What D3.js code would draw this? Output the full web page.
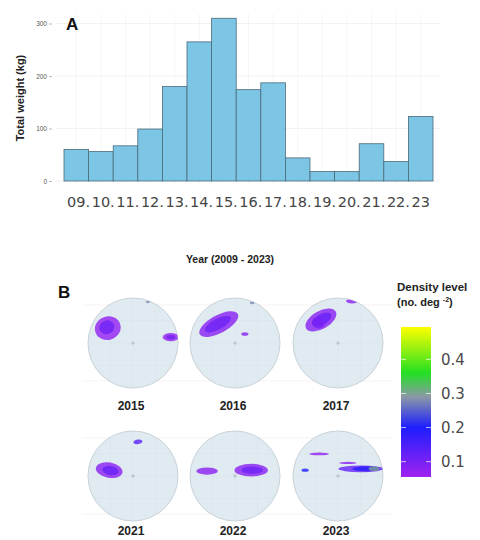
<!DOCTYPE html>
<html>
<head>
<meta charset="utf-8">
<script src="https://cdn.jsdelivr.net/npm/d3@7"></script>
<style>
  html, body { margin: 0; padding: 0; background: #fff; }
  svg { display: block; }
</style>
</head>
<body>
<svg id="chart" width="480" height="540"></svg>
<script>
// ---- Panel A: yearly total weight ----
const years = ["09.", "10.", "11.", "12.", "13.", "14.", "15.", "16.", "17.", "18.", "19.", "20.", "21.", "22.", "23"];
const weights = [60, 56, 67, 99, 180, 265, 310, 174, 187, 44, 18, 18, 71, 37, 123];
const weightTicks = [0, 100, 200, 300];

// ---- Panel B: density maps per year ----
const mapYears = ["2015", "2016", "2017", "2021", "2022", "2023"];
// density patches: panel index, centre (x, y in unit disc, y up), radii, tilt (deg), density level
const patchPanel = [0, 0, 0, 0, 0,   1, 1, 1, 1,   2, 2, 2, 2,   3, 3, 3,   4, 4, 4,   5, 5, 5, 5, 5, 5];
const patchX     = [-0.56, -0.58, 0.84, 0.84, 0.33,   -0.36, -0.38, 0.22, 0.38,   -0.38, -0.36, -0.44, 0.31,   -0.53, -0.5, 0.11,   -0.62, 0.36, 0.38,   -0.42, -0.73, 0.51, 0.62, 0.80, 0.22];
const patchY     = [0.33, 0.35, 0.13, 0.13, 0.91,   0.42, 0.42, 0.2, 0.89,   0.51, 0.52, 0.45, 0.93,   0.13, 0.12, 0.76,   0.11, 0.13, 0.13,   0.49, 0.13, 0.16, 0.16, 0.16, 0.29];
const patchRx    = [0.29, 0.17, 0.18, 0.10, 0.05,   0.48, 0.32, 0.08, 0.05,   0.38, 0.24, 0.12, 0.13,   0.30, 0.18, 0.10,   0.24, 0.37, 0.24,   0.22, 0.08, 0.50, 0.30, 0.12, 0.19];
const patchRy    = [0.26, 0.15, 0.09, 0.05, 0.025,  0.20, 0.12, 0.04, 0.03,   0.20, 0.12, 0.14, 0.05,   0.17, 0.10, 0.05,   0.08, 0.14, 0.08,   0.03, 0.035, 0.075, 0.055, 0.055, 0.025];
const patchTilt  = [20, 20, 0, 0, 0,   28, 28, 0, 0,   30, 30, 60, 0,   -10, -10, 10,   0, 0, 0,   0, 0, 0, 0, 0, 0];
const patchLevel = [0.07, 0.11, 0.07, 0.10, 0.28,   0.08, 0.11, 0.08, 0.28,   0.08, 0.12, 0.10, 0.08,   0.08, 0.12, 0.13,   0.08, 0.08, 0.11,   0.07, 0.2, 0.12, 0.19, 0.3, 0.08];

// ---- Colour bar ----
const densityDomain = [0.055, 0.2, 0.29, 0.36, 0.495];
const densityColors = ["#a022f0", "#1e1eff", "#8a98a6", "#22e022", "#ffff00"];
const densityTicks = [0.1, 0.2, 0.3, 0.4];

const svg = d3.select("#chart");
const sans = "'Liberation Sans', Arial, sans-serif";
const wide = "'DejaVu Sans', sans-serif";

// ================= Panel A =================
const x = d3.scaleBand().domain(years).range([64, 433]).padding(0);
const y = d3.scaleLinear().domain([0, 300]).range([181, 23.5]);

const gA = svg.append("g");

// faint background grid
gA.selectAll("line.hgrid").data(weightTicks).join("line")
  .attr("x1", 56).attr("x2", 440)
  .attr("y1", d => y(d)).attr("y2", d => y(d))
  .attr("stroke", "#f2f2f2").attr("stroke-width", 1);
gA.selectAll("line.vgrid").data(years).join("line")
  .attr("x1", d => x(d) + x.bandwidth() / 2).attr("x2", d => x(d) + x.bandwidth() / 2)
  .attr("y1", 14).attr("y2", 184)
  .attr("stroke", "#f5f5f5").attr("stroke-width", 1);

// bars
gA.selectAll("rect.bar").data(weights).join("rect")
  .attr("class", "bar")
  .attr("x", (d, i) => x(years[i]))
  .attr("width", x.bandwidth())
  .attr("y", d => y(d))
  .attr("height", d => y(0) - y(d))
  .attr("fill", "#7cc5e5")
  .attr("stroke", "#4b6a7a")
  .attr("stroke-width", 0.8);

// y axis (tiny labels with dash ticks)
const yAxis = d3.axisLeft(y).tickValues(weightTicks).tickSize(3).tickPadding(2);
const ya = gA.append("g").attr("transform", "translate(52,0)").call(yAxis);
ya.select(".domain").remove();
ya.selectAll("line").attr("stroke", "#888").attr("stroke-width", 0.6);
ya.selectAll("text").attr("font-family", sans).attr("font-size", 6.5).attr("fill", "#555");

// x labels: digits centred on each bar, trailing dot after
const labelSize = 14.5;
gA.selectAll("text.xl").data(years).join("text")
  .attr("x", d => x(d) + x.bandwidth() / 2 - labelSize * 0.636)
  .attr("y", 207)
  .attr("font-family", wide).attr("font-size", labelSize)
  .attr("fill", "#454545")
  .text(d => d);

gA.append("text")
  .attr("transform", "translate(24,98) rotate(-90)")
  .attr("text-anchor", "middle")
  .attr("font-family", sans).attr("font-weight", "bold").attr("font-size", 11)
  .attr("fill", "#222")
  .text("Total weight (kg)");

gA.append("text").attr("x", 66).attr("y", 30)
  .attr("font-family", sans).attr("font-weight", "bold").attr("font-size", 17)
  .attr("fill", "#111").text("A");

svg.append("text").attr("x", 230).attr("y", 263)
  .attr("text-anchor", "middle")
  .attr("font-family", sans).attr("font-weight", "bold").attr("font-size", 10.5)
  .attr("fill", "#222").text("Year (2009 - 2023)");

// ================= Panel B =================
svg.append("text").attr("x", 58).attr("y", 298)
  .attr("font-family", sans).attr("font-weight", "bold").attr("font-size", 17)
  .attr("fill", "#111").text("B");

const color = d3.scaleLinear().domain(densityDomain).range(densityColors).clamp(true);

const colCentres = [133, 235, 338];
const rowCentres = [343, 476];
const rowLabelY = [410, 535];
const R = 45;

const defs = svg.append("defs");
defs.append("filter").attr("id", "soft")
  .attr("x", "-20%").attr("y", "-20%").attr("width", "140%").attr("height", "140%")
  .append("feGaussianBlur").attr("stdDeviation", 0.7);

// faint facet grid rows
rowCentres.forEach(cy => {
  [-38, 38].forEach(off => {
    svg.append("line").attr("x1", 82).attr("x2", 392)
      .attr("y1", cy + off).attr("y2", cy + off)
      .attr("stroke", "#f5f1f1").attr("stroke-width", 1);
  });
});

mapYears.forEach((yr, p) => {
  const cx = colCentres[p % 3];
  const cy = rowCentres[Math.floor(p / 3)];
  const sx = d3.scaleLinear().domain([-1, 1]).range([cx - R, cx + R]);
  const sy = d3.scaleLinear().domain([-1, 1]).range([cy + R, cy - R]);
  const g = svg.append("g");

  defs.append("clipPath").attr("id", "disc" + p)
    .append("circle").attr("cx", cx).attr("cy", cy).attr("r", R);

  g.append("circle").attr("cx", cx).attr("cy", cy).attr("r", R)
    .attr("fill", "#e0ebf1").attr("stroke", "#c9d2d8").attr("stroke-width", 1);

  // graticule
  const gr = g.append("g").attr("clip-path", `url(#disc${p})`);
  [-0.5, 0, 0.5].forEach(v => {
    gr.append("line").attr("x1", sx(v)).attr("x2", sx(v)).attr("y1", sy(-1)).attr("y2", sy(1))
      .attr("stroke", "#d8e2e8").attr("stroke-width", 0.5);
    gr.append("line").attr("x1", sx(-1)).attr("x2", sx(1)).attr("y1", sy(v)).attr("y2", sy(v))
      .attr("stroke", "#d8e2e8").attr("stroke-width", 0.5);
  });

  // density patches
  const idx = d3.range(patchPanel.length).filter(i => patchPanel[i] === p);
  const pg = g.append("g").attr("clip-path", `url(#disc${p})`).append("g").attr("filter", "url(#soft)");
  pg.selectAll("ellipse").data(idx).join("ellipse")
    .attr("cx", i => sx(patchX[i])).attr("cy", i => sy(patchY[i]))
    .attr("rx", i => sx(patchRx[i]) - sx(0)).attr("ry", i => sy(0) - sy(patchRy[i]))
    .attr("transform", i => `rotate(${-patchTilt[i]},${sx(patchX[i])},${sy(patchY[i])})`)
    .attr("fill", i => color(patchLevel[i]))
    .attr("fill-opacity", 0.8);

  // centre mark
  g.append("path")
    .attr("d", `M${cx - 2},${cy}H${cx + 2}M${cx},${cy - 2}V${cy + 2}`)
    .attr("stroke", "#a6b2ba").attr("stroke-width", 0.7);

  g.append("text").attr("x", cx - 2).attr("y", rowLabelY[Math.floor(p / 3)])
    .attr("text-anchor", "middle")
    .attr("font-family", sans).attr("font-weight", "bold").attr("font-size", 12)
    .attr("fill", "#222").text(yr);
});

// ---- legend ----
const lg = svg.append("g");
lg.append("text").attr("x", 397).attr("y", 291)
  .attr("font-family", sans).attr("font-weight", "bold").attr("font-size", 11.5)
  .attr("fill", "#222").text("Density level");
const sub = lg.append("text").attr("x", 397).attr("y", 306)
  .attr("font-family", sans).attr("font-weight", "bold").attr("font-size", 11)
  .attr("fill", "#222");
sub.append("tspan").text("(no. deg ");
sub.append("tspan").attr("dy", -4).attr("font-size", 7).text("-2");
sub.append("tspan").attr("dy", 4).text(")");

const barTop = 327, barBottom = 477, barX = 401, barW = 30;
const ly = d3.scaleLinear().domain([densityDomain[0], densityDomain[densityDomain.length - 1]]).range([barBottom, barTop]);

const grad = defs.append("linearGradient").attr("id", "densGrad")
  .attr("x1", 0).attr("y1", 1).attr("x2", 0).attr("y2", 0);
densityDomain.forEach((d, i) => {
  grad.append("stop")
    .attr("offset", (d - densityDomain[0]) / (densityDomain[4] - densityDomain[0]))
    .attr("stop-color", densityColors[i]);
});
lg.append("rect").attr("x", barX).attr("y", barTop).attr("width", barW).attr("height", barBottom - barTop)
  .attr("fill", "url(#densGrad)");

densityTicks.forEach(t => {
  lg.append("line").attr("x1", barX).attr("x2", barX + 5).attr("y1", ly(t)).attr("y2", ly(t))
    .attr("stroke", "#fff").attr("stroke-opacity", 0.7).attr("stroke-width", 1);
  lg.append("line").attr("x1", barX + barW - 5).attr("x2", barX + barW).attr("y1", ly(t)).attr("y2", ly(t))
    .attr("stroke", "#fff").attr("stroke-opacity", 0.7).attr("stroke-width", 1);
  lg.append("text").attr("x", 441).attr("y", ly(t) + 5.5)
    .attr("font-family", wide).attr("font-size", 15)
    .attr("fill", "#4a4a4a").text(d3.format(".1f")(t));
});
</script>
</body>
</html>
